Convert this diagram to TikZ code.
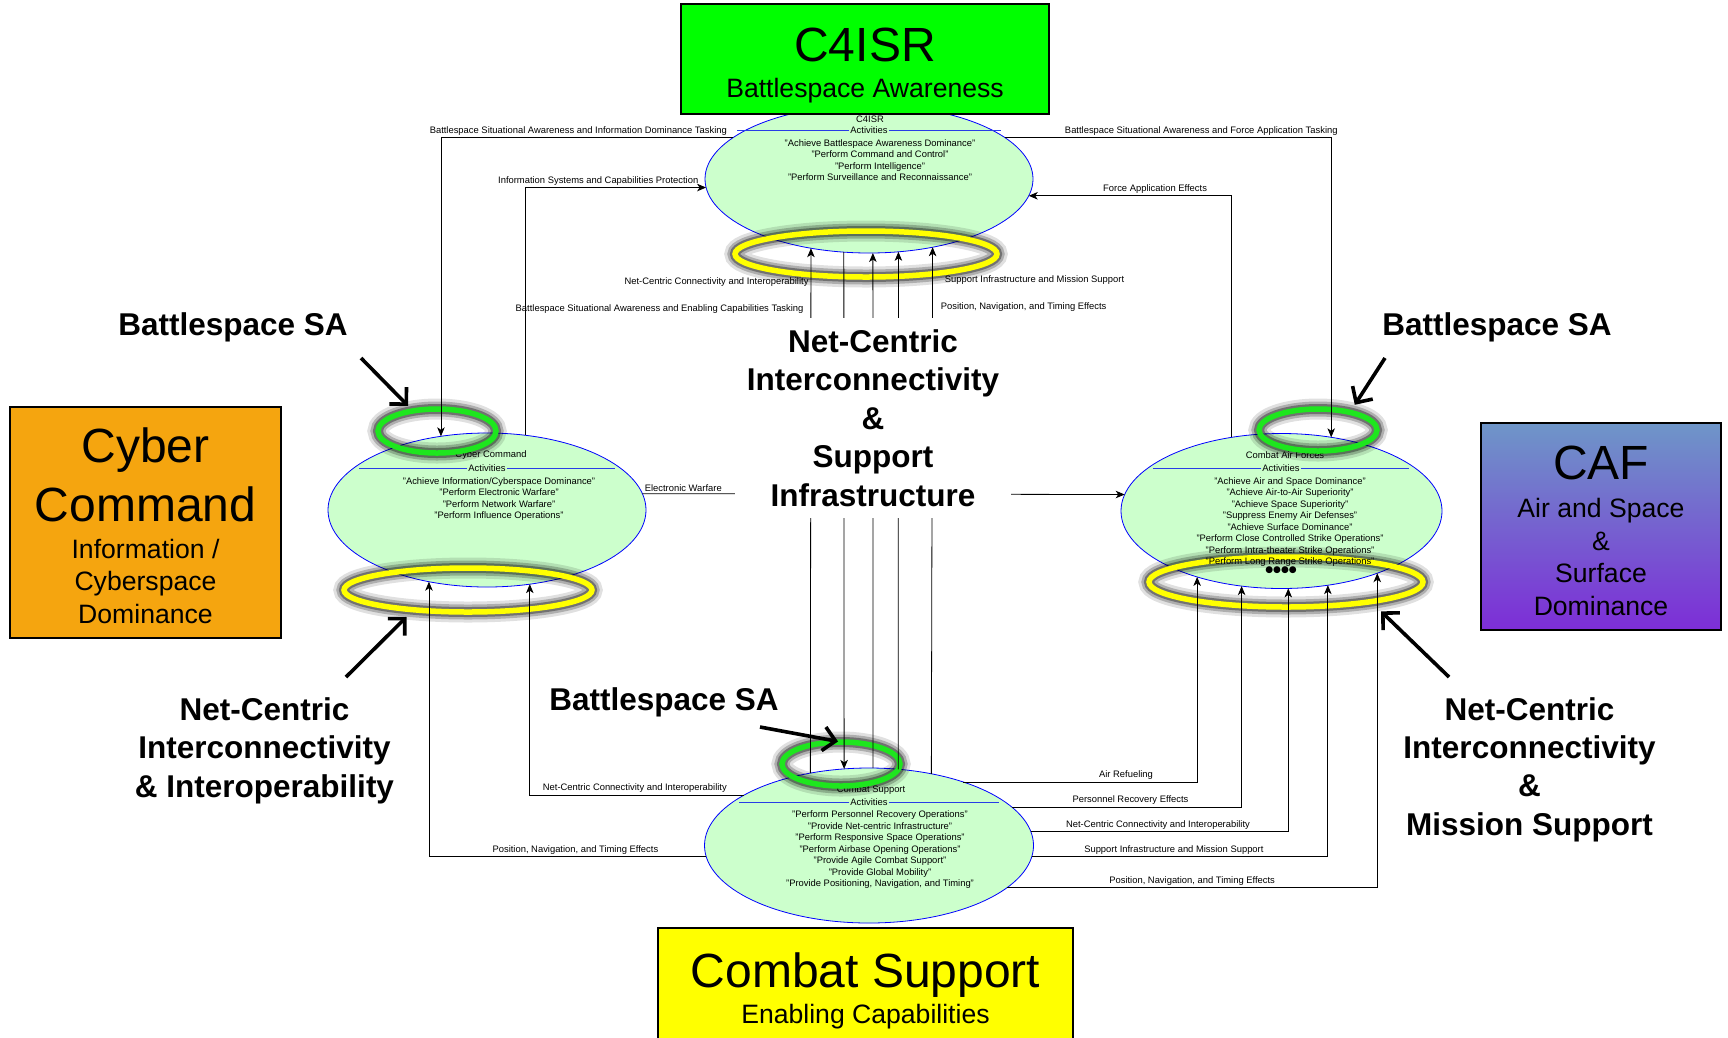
\documentclass[tikz,border=0pt]{standalone}
\usepackage{fontspec}
\setmainfont{Liberation Sans}
\newfontfamily\dotsfont{DejaVu Sans}
\usetikzlibrary{shapes.geometric,arrows.meta,positioning}

\definecolor{actfill}{RGB}{204,255,204}
\definecolor{sepblue}{RGB}{40,60,230}
\definecolor{ringgreen}{RGB}{30,230,30}
\definecolor{ringyellow}{RGB}{255,255,0}
\definecolor{cfourgreen}{RGB}{0,255,0}
\definecolor{cyberorange}{RGB}{245,165,15}
\definecolor{caftop}{RGB}{110,150,200}
\definecolor{cafbottom}{RGB}{125,45,215}
\definecolor{csyellow}{RGB}{255,255,0}

\begin{document}
\begin{tikzpicture}[x=1pt,y=-1pt,>={Stealth[length=9pt,width=7.5pt,inset=2.5pt]},
    act/.style={ellipse,draw=blue,fill=actfill,line width=0.8pt,inner sep=0pt,outer sep=0pt},
    acttitle/.style={font=\fontsize{9.4}{11}\selectfont,inner sep=0pt},
    actsep/.style={font=\fontsize{9.4}{11}\selectfont,fill=actfill,inner sep=1pt},
    actlist/.style={font=\fontsize{9.4}{11.5}\selectfont,align=center,inner sep=0pt},
    ring/.style={ellipse,inner sep=0pt,outer sep=0pt,line width=5.5pt,
      preaction={draw=black,line width=21pt,opacity=0.12},
      preaction={draw=black,line width=15pt,opacity=0.22},
      preaction={draw=black,line width=10pt,opacity=0.35}},
    greenring/.style={ring,draw=ringgreen},
    yellowring/.style={ring,draw=ringyellow},
    orgbox/.style={draw=black,line width=1.5pt,inner sep=0pt,outer sep=0pt},
    orgbig/.style={font=\fontsize{48}{59}\selectfont,align=center,inner sep=0pt},
    orgsmall/.style={font=\fontsize{26.6}{32.5}\selectfont,align=center,inner sep=0pt},
    flow/.style={line width=0.8pt},
    lbl/.style={font=\fontsize{9.4}{11}\selectfont,inner sep=2pt},
    bigtext/.style={font=\bfseries\fontsize{31.5}{38.4}\selectfont,align=center,inner sep=0pt},
    bigarrow/.style={line width=3.6pt,-{Straight Barb[length=12pt,width=24pt]}}]

  \path[use as bounding box,fill=white] (0,0) rectangle (1728,1037);

  \node[act,minimum width=328pt,minimum height=148pt] (c4) at (869,179) {};
  \node[acttitle] (c4t) at (870,119) {C4ISR};
  \node[actsep] (c4a) at (869,130) {Activities};
  \draw[sepblue,line width=0.8pt] (c4a.west) -- ++(-112,0) (c4a.east) -- ++(112,0);

  \node[act,minimum width=318pt,minimum height=154pt] (cy) at (487,510) {};
  \node[acttitle] (cyt) at (491,455) {Cyber Command};
  \node[actsep] (cya) at (487,468) {Activities};
  \draw[sepblue,line width=0.8pt] (cya.west) -- ++(-108,0) (cya.east) -- ++(108,0);

  \node[act,minimum width=321pt,minimum height=155pt] (caf) at (1281.5,511) {};
  \node[acttitle] (caft) at (1285,455) {Combat Air Forces};
  \node[actsep] (cafa) at (1281,468) {Activities};
  \draw[sepblue,line width=0.8pt] (cafa.west) -- ++(-108,0) (cafa.east) -- ++(108,0);

  \node[act,minimum width=329pt,minimum height=155pt] (cs) at (869,845.5) {};
  \node[acttitle] (cst) at (871,790) {Combat Support};
  \node[actsep] (csa) at (869,802) {Activities};
  \draw[sepblue,line width=0.8pt] (csa.west) -- ++(-110,0) (csa.east) -- ++(110,0);

  \node[yellowring,minimum width=262pt,minimum height=46pt] (c4net) at (866,254) {};
  \node[greenring,minimum width=118pt,minimum height=44pt] (cysa) at (437,431) {};
  \node[yellowring,minimum width=248pt,minimum height=44pt] (cynet) at (468,590) {};
  \node[greenring,minimum width=118pt,minimum height=42pt] (cafsa) at (1318,430) {};
  \node[yellowring,minimum width=274pt,minimum height=50pt] (cafnet) at (1286,582) {};
  \node[greenring,minimum width=118pt,minimum height=44pt] (cssa) at (841,764) {};

  \node[actlist] (c4l) at (880,160) {"Achieve Battlespace Awareness Dominance"\\"Perform Command and Control"\\"Perform Intelligence"\\"Perform Surveillance and Reconnaissance"};
  \node[actlist] (cyl) at (499,499) {"Achieve Information/Cyberspace Dominance"\\"Perform Electronic Warfare"\\"Perform Network Warfare"\\"Perform Influence Operations"};
  \node[actlist] (cafl) at (1290,522) {"Achieve Air and Space Dominance"\\"Achieve Air-to-Air Superiority"\\"Achieve Space Superiority"\\"Suppress Enemy Air Defenses"\\"Achieve Surface Dominance"\\"Perform Close Controlled Strike Operations"\\"Perform Intra-theater Strike Operations"\\"Perform Long Range Strike Operations"};
  \node[actlist] (csl) at (880,850) {"Perform Personnel Recovery Operations"\\"Provide Net-centric Infrastructure"\\"Perform Responsive Space Operations"\\"Perform Airbase Opening Operations"\\"Provide Agile Combat Support"\\"Provide Global Mobility"\\"Provide Positioning, Navigation, and Timing"};
  \node[font=\dotsfont\fontsize{9}{9}\selectfont,inner sep=0pt] (cafdots) at (1281,570) {●●●●};

  \node[orgbox,fill=cfourgreen,minimum width=368pt,minimum height=110pt] (c4box) at (865,59) {};
  \node[orgbig] (c4boxa) at (865,45) {C4ISR};
  \node[orgsmall] (c4boxb) at (865,91) {Battlespace Awareness};

  \node[orgbox,fill=cyberorange,minimum width=271pt,minimum height=231pt] (cybox) at (145.5,522.5) {};
  \node[orgbig] (cyboxa) at (145.5,475) {Cyber\\Command};
  \node[orgsmall] (cyboxb) at (145.5,581) {Information /\\Cyberspace\\Dominance};

  \node[orgbox,top color=caftop,bottom color=cafbottom,minimum width=240pt,minimum height=207pt] (cafbox) at (1601,526.5) {};
  \node[orgbig] (cafboxa) at (1601,463) {CAF};
  \node[orgsmall] (cafboxb) at (1601,557) {Air and Space\\\&\\Surface\\Dominance};

  \node[orgbox,fill=csyellow,minimum width=415pt,minimum height=115pt] (csbox) at (865.5,985.5) {};
  \node[orgbig] (csboxa) at (865.5,975) {Combat Support};
  \node[orgsmall] (csboxb) at (865.5,1016.5) {Enabling Capabilities};

  \draw[flow,->] (c4.163) -| node[lbl,pos=0.265,above] {Battlespace Situational Awareness and Information Dominance Tasking} (cy.122);
  \draw[flow,->] (cy.63) |- node[lbl,pos=0.702,above] {Information Systems and Capabilities Protection} (c4.183);
  \draw[flow,->] (c4.17) -| node[lbl,pos=0.301,above] {Battlespace Situational Awareness and Force Application Tasking} (caf.56);
  \draw[flow,->] (caf.124) |- node[lbl,pos=0.689,above] {Force Application Effects} (c4.354);
  \draw[flow,->] (cy.6) -- node[lbl,pos=0,anchor=south west] {Electronic Warfare} (caf.174);

  \draw[flow,->] (cs.129) -- node[lbl,pos=0.935,left] {Net-Centric Connectivity and Interoperability} (c4.230);
  \draw[flow,->] (c4.251) -- node[lbl,pos=0.11,left=38pt] {Battlespace Situational Awareness and Enabling Capabilities Tasking} (cs.108);
  \draw[flow,->] (cs.87) -- (c4.273);
  \draw[flow,->] (cs.69) -- node[lbl,pos=0.894,right=40pt] {Position, Navigation, and Timing Effects} (c4.292);
  \draw[flow,->] (cs.49) -- node[lbl,pos=0.937,right=10pt] {Support Infrastructure and Mission Support} (c4.313);

  \draw[flow,->] (cs.158) -| node[lbl,pos=0.255,above] {Net-Centric Connectivity and Interoperability} (cy.300);
  \draw[flow,->] (cs.184) -| node[lbl,pos=0.236,above] {Position, Navigation, and Timing Effects} (cy.231);

  \draw[flow,->] (cs.34) -| node[lbl,pos=0.348,above] {Air Refueling} (caf.218);
  \draw[flow,->] (cs.15) -| node[lbl,pos=0.258,above] {Personnel Recovery Effects} (caf.242);
  \draw[flow,->] (cs.5) -| node[lbl,pos=0.247,above] {Net-Centric Connectivity and Interoperability} (caf.275);
  \draw[flow,->] (cs.356) -| node[lbl,pos=0.24,above] {Support Infrastructure and Mission Support} (caf.302);
  \draw[flow,->] (cs.343) -| node[lbl,pos=0.25,above] {Position, Navigation, and Timing Effects} (caf.327);

  \node[bigtext,fill=white,inner xsep=12pt,inner ysep=12pt] (hub) at (873,418) {Net-Centric\\Interconnectivity\\\&\\Support\\Infrastructure};

  \node[bigtext] (saleft) at (233,327) {Battlespace SA};
  \node[bigtext] (saright) at (1497,327) {Battlespace SA};
  \node[bigtext] (sabottom) at (664,702) {Battlespace SA};
  \node[bigtext] (netleft) at (264.5,750.6) {Net-Centric\\Interconnectivity\\\& Interoperability};
  \node[bigtext] (netright) at (1529.5,769.6) {Net-Centric\\Interconnectivity\\\&\\Mission Support};

  \coordinate (salefttail) at (361,358);
  \coordinate (sarighttail) at (1385,358);
  \coordinate (sabottomtail) at (760,727);
  \coordinate (netlefttail) at (346,677);
  \coordinate (netrighttail) at (1449,677);
  \draw[bigarrow,shorten >=7pt] (salefttail) -- (cysa.140);
  \draw[bigarrow,shorten >=9pt] (sarighttail) -- (cafsa.29);
  \draw[bigarrow,shorten >=3pt] (sabottomtail) -- (cssa.north);
  \draw[bigarrow,shorten >=10pt] (netlefttail) -- (cynet.200);
  \draw[bigarrow,shorten >=14pt] (netrighttail) -- (cafnet.347);
\end{tikzpicture}
\end{document}
